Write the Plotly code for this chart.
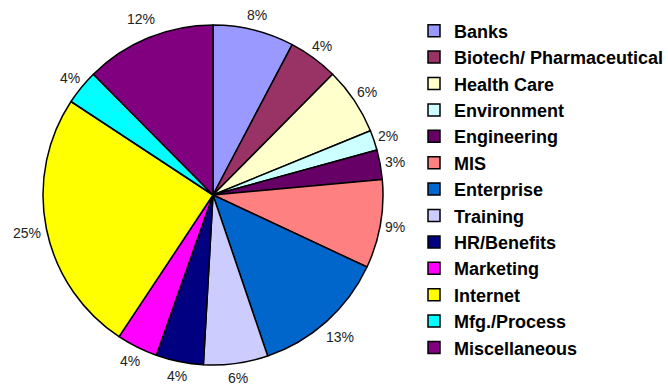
import numpy as np
import plotly.graph_objects as go

categories = ["Banks", "Biotech/ Pharmaceutical", "Health Care", "Environment",
              "Engineering", "MIS", "Enterprise", "Training", "HR/Benefits",
              "Marketing", "Internet", "Mfg./Process", "Miscellaneous"]
shares = [7.7, 4.7, 6.4, 1.9, 2.8, 8.4, 12.8, 6.1, 4.5, 3.9, 24.9, 3.3, 12.4]
pct_labels = ["8%", "4%", "6%", "2%", "3%", "9%", "13%", "6%", "4%", "4%",
              "25%", "4%", "12%"]
colors = ["#9999FF", "#993366", "#FFFFCC", "#CCFFFF", "#660066", "#FF8080",
          "#0066CC", "#CCCCFF", "#000080", "#FF00FF", "#FFFF00", "#00FFFF",
          "#800080"]

W, H = 668, 386
cx, cy, r = 213, 195, 170

fig = go.Figure(go.Pie(
    labels=categories,
    values=shares,
    textinfo="none",
    sort=False,
    direction="clockwise",
    rotation=0,
    marker=dict(colors=colors, line=dict(color="black", width=1.5)),
    hoverinfo="label+percent",
    domain=dict(x=[(cx - r) / W, (cx + r) / W],
                y=[(H - cy - r) / H, (H - cy + r) / H]),
))

# percentage labels placed just outside each slice, at the slice mid-angle
vals = np.array(shares, dtype=float)
frac = vals / vals.sum()
mid = (np.cumsum(frac) - frac / 2) * 2 * np.pi  # clockwise from 12 o'clock
for ang, txt in zip(mid, pct_labels):
    R = r + 5 + 5 * len(txt)
    px = cx + R * np.sin(ang)
    py = cy - R * np.cos(ang)
    fig.add_annotation(
        x=px / W, y=1 - py / H, xref="paper", yref="paper",
        text=txt, showarrow=False, xanchor="center", yanchor="middle",
        font=dict(family="Arial, Liberation Sans", size=14, color="#222222"),
    )

fig.update_layout(
    width=W, height=H,
    margin=dict(l=0, r=0, t=0, b=0, autoexpand=False),
    paper_bgcolor="white",
    plot_bgcolor="white",
    showlegend=True,
    legend=dict(
        x=414 / W, xanchor="left",
        y=1 - 12.5 / H, yanchor="top",
        font=dict(family="Arial, Liberation Sans", size=18, color="black", weight="bold"),
        bgcolor="rgba(0,0,0,0)",
        traceorder="normal",
    ),
)

fig.write_html("out.html")
